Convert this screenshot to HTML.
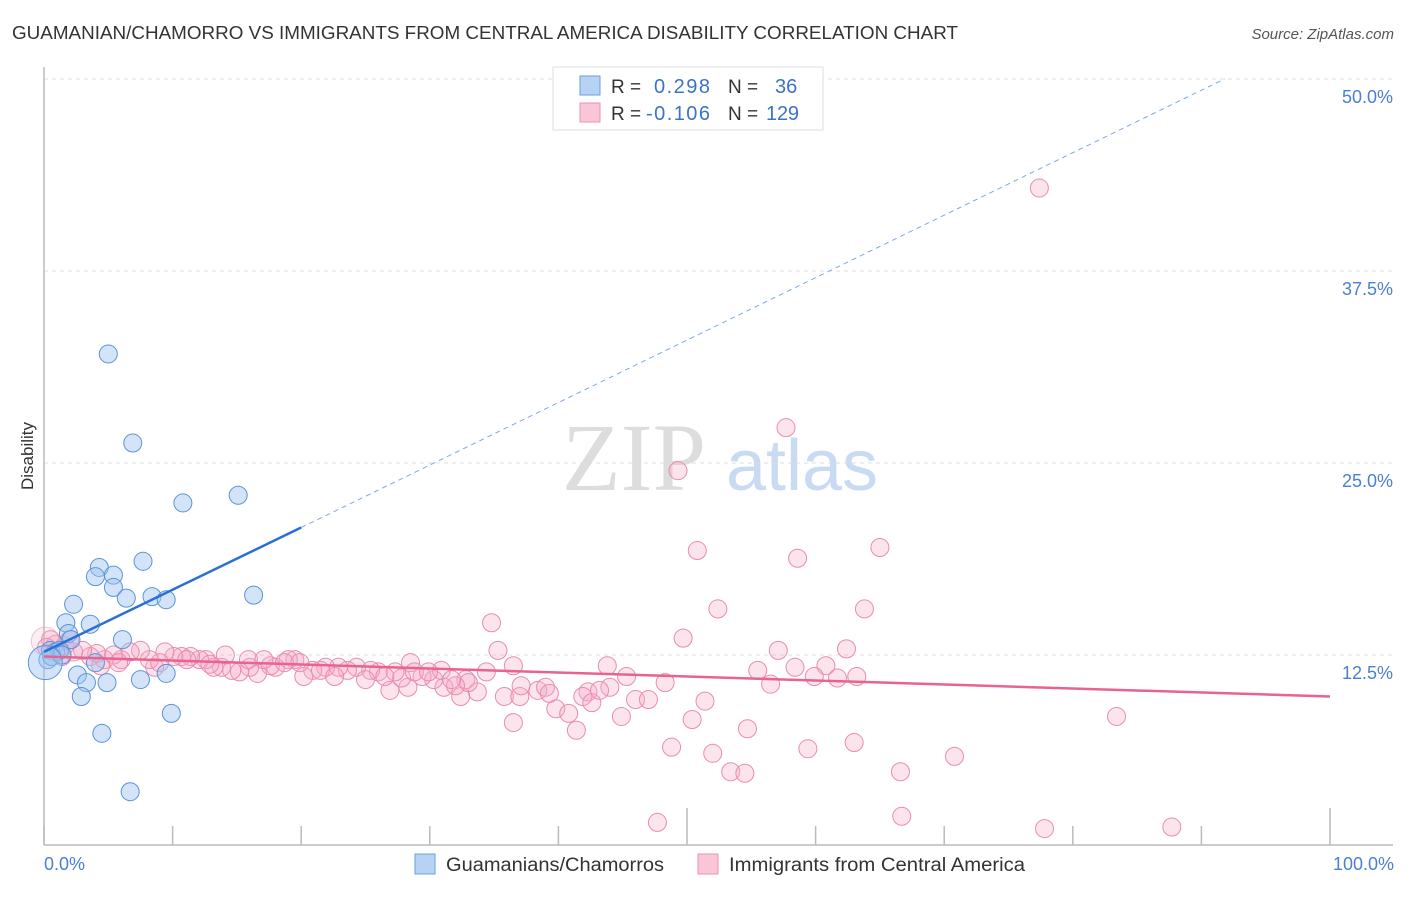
<!DOCTYPE html>
<html><head><meta charset="utf-8"><style>
body{margin:0;background:#fff;font-family:"Liberation Sans",sans-serif;}
svg text{font-family:"Liberation Sans",sans-serif;}
</style></head><body>
<svg id="chart" width="1406" height="892" viewBox="0 0 1406 892" xmlns="http://www.w3.org/2000/svg">
<text x="12" y="39" font-size="18" fill="#333" textLength="946" lengthAdjust="spacingAndGlyphs">GUAMANIAN/CHAMORRO VS IMMIGRANTS FROM CENTRAL AMERICA DISABILITY CORRELATION CHART</text>
<text x="1394" y="39" font-size="15" fill="#555" text-anchor="end" font-style="italic">Source: ZipAtlas.com</text>
<text transform="translate(33,456) rotate(-90)" font-size="17" fill="#333" text-anchor="middle">Disability</text>
<g>
<text x="634" y="490" font-size="96" fill="#ddd" text-anchor="middle" font-family="Liberation Serif" style="font-family:'Liberation Serif',serif">ZIP</text>
<text x="802" y="490" font-size="72" fill="#c9daf3" text-anchor="middle">atlas</text>
</g>
<g id="grid"></g>
<g id="axes"></g>
<g id="pink"></g>
<g id="blue"></g>
<g id="lines"></g>
<g>
<rect x="553" y="67" width="270" height="63" fill="#fff" stroke="#ddd"/>
<rect x="580" y="76" width="20" height="19" fill="#b8d2f4" stroke="#6a9ee0"/>
<rect x="580" y="103" width="20" height="19" fill="#f9c6d6" stroke="#e992b0"/>
<text x="611" y="93" font-size="19" fill="#333">R =</text>
<text x="654" y="93" font-size="20" fill="#3b73c9" textLength="56">0.298</text>
<text x="728" y="93" font-size="19" fill="#333">N =</text>
<text x="775" y="93" font-size="20" fill="#3b73c9">36</text>
<text x="611" y="120" font-size="19" fill="#333">R =</text>
<text x="646" y="120" font-size="20" fill="#3b73c9" textLength="64">-0.106</text>
<text x="728" y="120" font-size="19" fill="#333">N =</text>
<text x="766" y="120" font-size="20" fill="#3b73c9" textLength="33">129</text>
</g>
<text x="44" y="870" font-size="18" fill="#4a7fd6">0.0%</text>
<text x="1394" y="870" font-size="18" fill="#4a7fd6" text-anchor="end">100.0%</text>
<g>
<rect x="415" y="854" width="20" height="20" fill="#b8d2f4" stroke="#6a9ee0"/>
<text x="446" y="871" font-size="19" fill="#333" textLength="218" lengthAdjust="spacingAndGlyphs">Guamanians/Chamorros</text>
<rect x="698" y="854" width="20" height="20" fill="#f9c6d6" stroke="#e992b0"/>
<text x="729" y="871" font-size="19" fill="#333" textLength="296" lengthAdjust="spacingAndGlyphs">Immigrants from Central America</text>
</g>
</svg>
<script>
const yTicks=[12.5,25,37.5,50];
const yTickLabels=["12.5%","25.0%","37.5%","50.0%"];
const xTicks=[0,10,20,30,40,50,60,70,80,90,100];
const blueX=[5.0,6.9,10.8,15.1,7.7,4.3,4.0,5.4,5.4,6.4,8.4,9.5,16.3,2.3,1.7,3.6,1.9,6.1,2.1,0.5,0.9,1.2,4.0,2.6,3.3,4.9,7.5,9.5,2.9,9.9,4.5,6.7,0.3,0.6,1.4,0.1];
const blueY=[32.1,26.3,22.4,22.9,18.6,18.2,17.6,17.7,16.9,16.2,16.3,16.1,16.4,15.8,14.6,14.5,13.9,13.5,13.5,12.8,12.7,12.8,12.0,11.2,10.7,10.7,10.9,11.3,9.8,8.7,7.4,3.6,12.2,12.4,12.5,12.0];
const pinkX=[77.4,57.7,49.3,50.8,58.6,65.0,52.4,63.8,34.8,49.7,35.3,57.1,62.4,43.8,45.3,55.5,58.4,60.8,59.9,61.7,63.2,56.5,48.3,51.4,48.8,52.0,54.7,59.4,63.0,53.4,54.5,66.6,70.8,50.4,83.4,47.7,66.7,77.8,87.7,44.9,42.3,44.0,41.9,42.6,41.4,39.8,40.8,36.5,35.8,37.0,38.4,39.0,39.3,37.1,33.7,32.4,31.1,30.3,29.4,28.3,26.9,28.5,30.9,32.8,34.4,33.0,32.0,27.8,27.3,26.0,25.4,24.3,23.6,22.9,21.9,20.9,20.2,19.5,19.0,18.0,17.6,16.6,16.0,15.2,14.6,13.8,13.2,12.6,12.1,11.4,10.7,10.1,9.4,8.6,8.2,7.5,6.7,6.0,5.4,4.7,4.1,3.6,3.0,2.3,1.6,0.9,0.5,0.2,2.0,1.4,4.4,5.8,9.0,11.1,12.9,14.1,15.9,17.1,18.7,19.9,21.5,22.6,25.0,26.5,28.8,29.9,31.7,36.5,43.2,46.0,47.0,0.1];
const pinkY=[42.9,27.3,24.5,19.3,18.8,19.5,15.5,15.5,14.6,13.6,12.8,12.8,12.9,11.8,11.1,11.5,11.7,11.8,11.1,11.0,11.1,10.6,10.7,9.5,6.5,6.1,7.7,6.4,6.8,4.9,4.8,4.9,5.9,8.3,8.5,1.6,2.0,1.2,1.3,8.5,10.1,10.4,9.8,9.4,7.6,9.0,8.7,8.1,9.8,9.8,10.2,10.4,10.0,10.5,10.1,9.8,10.4,10.9,11.1,10.4,10.2,12.0,11.5,10.9,11.4,10.7,10.5,11.0,11.4,11.4,11.5,11.7,11.5,11.7,11.7,11.5,11.1,12.2,12.2,11.7,11.8,11.3,11.7,11.4,11.5,11.7,11.7,12.2,12.2,12.4,12.4,12.4,12.7,11.7,12.2,12.8,12.7,12.2,12.5,12.2,12.6,12.4,12.8,12.7,13.1,13.2,13.5,13.0,13.5,12.4,11.8,12.0,12.0,12.2,11.9,12.5,12.2,12.2,12.0,12.0,11.5,11.1,10.9,11.1,11.4,11.4,10.9,11.8,10.2,9.6,9.6,13.4];
const blueTrend=[[0,12.7],[20,20.8]];
const blueDash=[[20,20.8],[91.8,50]];
const pinkTrend=[[0,12.4],[100,9.8]];
const NS="http://www.w3.org/2000/svg";
const sx=v=>44+v*12.86;
const sy=v=>847-v*15.36;
function mk(tag,attrs,parent){const e=document.createElementNS(NS,tag);for(const k in attrs)e.setAttribute(k,attrs[k]);parent.appendChild(e);return e;}
const grid=document.getElementById('grid'),axes=document.getElementById('axes');
yTicks.forEach((t,i)=>{
 const l=mk('line',{x1:44,x2:1393,y1:sy(t),y2:sy(t),stroke:'#ddd','stroke-dasharray':'4,4'},grid);
 
 
 const tx=mk('text',{x:1393,y:sy(t)+24,'font-size':18,fill:'#4a7fd6','text-anchor':'end'},axes);
 tx.textContent=yTickLabels[i];
 
 
});
const la=mk('line',{x1:44,x2:44,y1:67,y2:845,stroke:'#bbb','stroke-width':1.5},axes);


const ba=mk('line',{x1:44,x2:1393,y1:845,y2:845,stroke:'#bbb','stroke-width':1.5},axes);


xTicks.forEach(t=>{
 const k=mk('line',{x1:sx(t),x2:sx(t),y1:(t%50===0&&t>0)?808:826,y2:845,stroke:'#bbb','stroke-width':1.5},axes);
 
 
});
const pg=document.getElementById('pink');
pinkX.forEach((x,i)=>{
 const big=i===pinkX.length-1;
 const c=mk('circle',{cx:sx(x),cy:sy(pinkY[i]),r:big?14:9,fill:big?'rgba(245,170,198,0.2)':'rgba(245,170,198,0.32)',stroke:big?'rgba(233,140,173,0.5)':'#e98cad','stroke-width':1},pg);
 
 
});
const bg=document.getElementById('blue');
blueX.forEach((x,i)=>{
 const r=i===blueX.length-1?17:9;
 const c=mk('circle',{cx:sx(x),cy:sy(blueY[i]),r:r,fill:'rgba(160,196,240,0.45)',stroke:'#5b93d8','stroke-width':1},bg);
 
 
});
const lg=document.getElementById('lines');
const b1=mk('line',{x1:sx(blueTrend[0][0]),y1:sy(blueTrend[0][1]),x2:sx(blueTrend[1][0]),y2:sy(blueTrend[1][1]),stroke:'#2a6fd6','stroke-width':2.5},lg);


const b2=mk('line',{x1:sx(blueDash[0][0]),y1:sy(blueDash[0][1]),x2:sx(blueDash[1][0]),y2:sy(blueDash[1][1]),stroke:'#7fa8e6','stroke-width':1,'stroke-dasharray':'5,4'},lg);


const p1=mk('line',{x1:sx(pinkTrend[0][0]),y1:sy(pinkTrend[0][1]),x2:sx(pinkTrend[1][0]),y2:sy(pinkTrend[1][1]),stroke:'#e8638f','stroke-width':2.5},lg);


</script>
</body></html>
